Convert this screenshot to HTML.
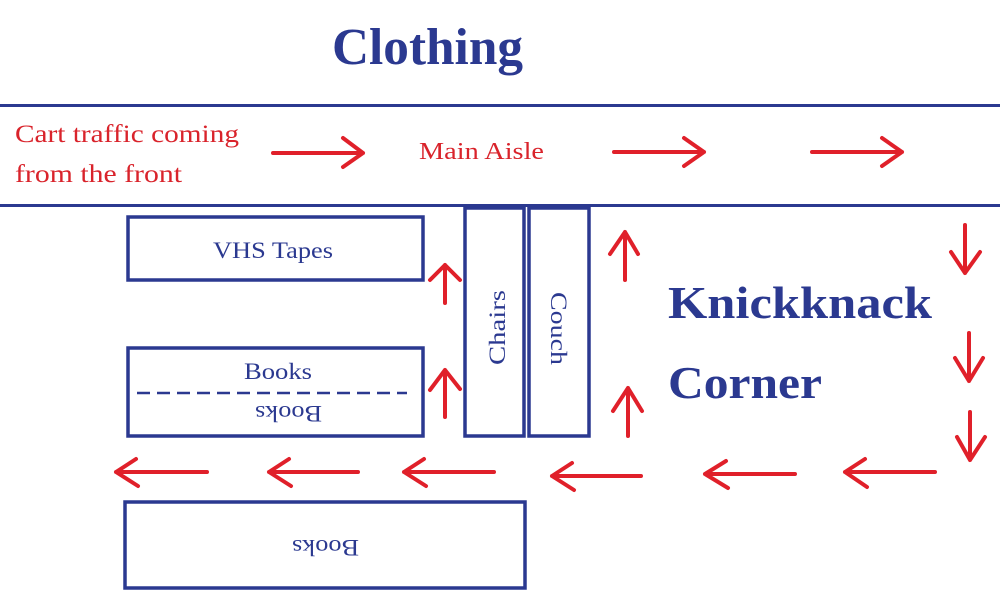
<!DOCTYPE html>
<html>
<head>
<meta charset="utf-8">
<style>
  html,body{margin:0;padding:0;background:#fff;}
  svg{display:block;}
  text{font-family:"Liberation Serif", serif;}
</style>
</head>
<body>
<svg width="1000" height="590" viewBox="0 0 1000 590" xmlns="http://www.w3.org/2000/svg">
  <rect x="0" y="0" width="1000" height="590" fill="#ffffff"/>

  <!-- Main aisle lines -->
  <line x1="0" y1="105.5" x2="1000" y2="105.5" stroke="#2b3990" stroke-width="3"/>
  <line x1="0" y1="205.5" x2="1000" y2="205.5" stroke="#2b3990" stroke-width="3"/>

  <!-- Title -->
  <text x="332" y="64" font-size="52" font-weight="bold" fill="#2b3990" textLength="191" lengthAdjust="spacingAndGlyphs">Clothing</text>

  <!-- Aisle texts -->
  <text x="15" y="142" font-size="25" fill="#d9232b" textLength="224" lengthAdjust="spacingAndGlyphs">Cart traffic coming</text>
  <text x="15" y="182" font-size="25" fill="#d9232b" textLength="167" lengthAdjust="spacingAndGlyphs">from the front</text>
  <text x="419" y="159" font-size="24" fill="#d9232b" textLength="125" lengthAdjust="spacingAndGlyphs">Main Aisle</text>

  <!-- Boxes -->
  <g fill="none" stroke="#2b3990" stroke-width="3.5">
    <rect x="128" y="217" width="295" height="63"/>
    <rect x="128" y="348" width="295" height="88"/>
    <rect x="465" y="208" width="59" height="228"/>
    <rect x="529" y="208" width="60" height="228"/>
    <rect x="125" y="502" width="400" height="86"/>
  </g>
  <line x1="137" y1="393" x2="407" y2="393" stroke="#2b3990" stroke-width="2.5" stroke-dasharray="13 7"/>

  <!-- Box labels -->
  <g fill="#2b3990" font-size="23">
    <text x="213" y="258" textLength="120" lengthAdjust="spacingAndGlyphs">VHS Tapes</text>
    <text x="244" y="379" textLength="68" lengthAdjust="spacingAndGlyphs">Books</text>
    <text transform="translate(322,406) rotate(180)" x="0" y="0" textLength="67" lengthAdjust="spacingAndGlyphs">Books</text>
    <text transform="translate(359,540) rotate(180)" x="0" y="0" textLength="67" lengthAdjust="spacingAndGlyphs">Books</text>
    <text transform="translate(505,365) rotate(-90)" x="0" y="0" textLength="75" lengthAdjust="spacingAndGlyphs">Chairs</text>
    <text transform="translate(551,292) rotate(90)" x="0" y="0" textLength="73" lengthAdjust="spacingAndGlyphs">Couch</text>
  </g>

  <!-- Knickknack Corner -->
  <text x="668" y="318" font-size="46" font-weight="bold" fill="#2b3990" textLength="264" lengthAdjust="spacingAndGlyphs">Knickknack</text>
  <text x="668" y="398" font-size="46" font-weight="bold" fill="#2b3990" textLength="154" lengthAdjust="spacingAndGlyphs">Corner</text>

  <!-- Arrows -->
  <g fill="none" stroke="#e0202a" stroke-width="4" stroke-linecap="round" stroke-linejoin="round">
    <!-- right arrows in main aisle -->
    <path d="M273 153 H363 M343 138 L363 153 L343 167"/>
    <path d="M614 152 H704 M684 138 L704 152 L684 166"/>
    <path d="M812 152 H902 M882 138 L902 152 L882 166"/>
    <!-- down arrows -->
    <path d="M965 225 V273 M951 252 L965 273 L980 252"/>
    <path d="M969 333 V381 M955 358 L969 381 L983 358"/>
    <path d="M970 412 V460 M957 437 L970 460 L985 437"/>
    <!-- up arrows -->
    <path d="M625 280 V232 M610 254 L625 232 L638 254"/>
    <path d="M628 436 V388 M613 411 L628 388 L642 411"/>
    <path d="M445 303 V265 M430 280 L445 265 L460 280"/>
    <path d="M445 417 V370 M430 390 L445 370 L460 389"/>
    <!-- left arrows -->
    <path d="M207 472 H116 M136 459 L116 472 L138 486"/>
    <path d="M358 472 H269 M289 459 L269 472 L291 486"/>
    <path d="M494 472 H404 M424 459 L404 472 L426 486"/>
    <path d="M641 476 H552 M572 463 L552 476 L574 490"/>
    <path d="M795 474 H705 M726 461 L705 474 L728 488"/>
    <path d="M935 472 H845 M865 459 L845 472 L867 487"/>
  </g>
</svg>
</body>
</html>
